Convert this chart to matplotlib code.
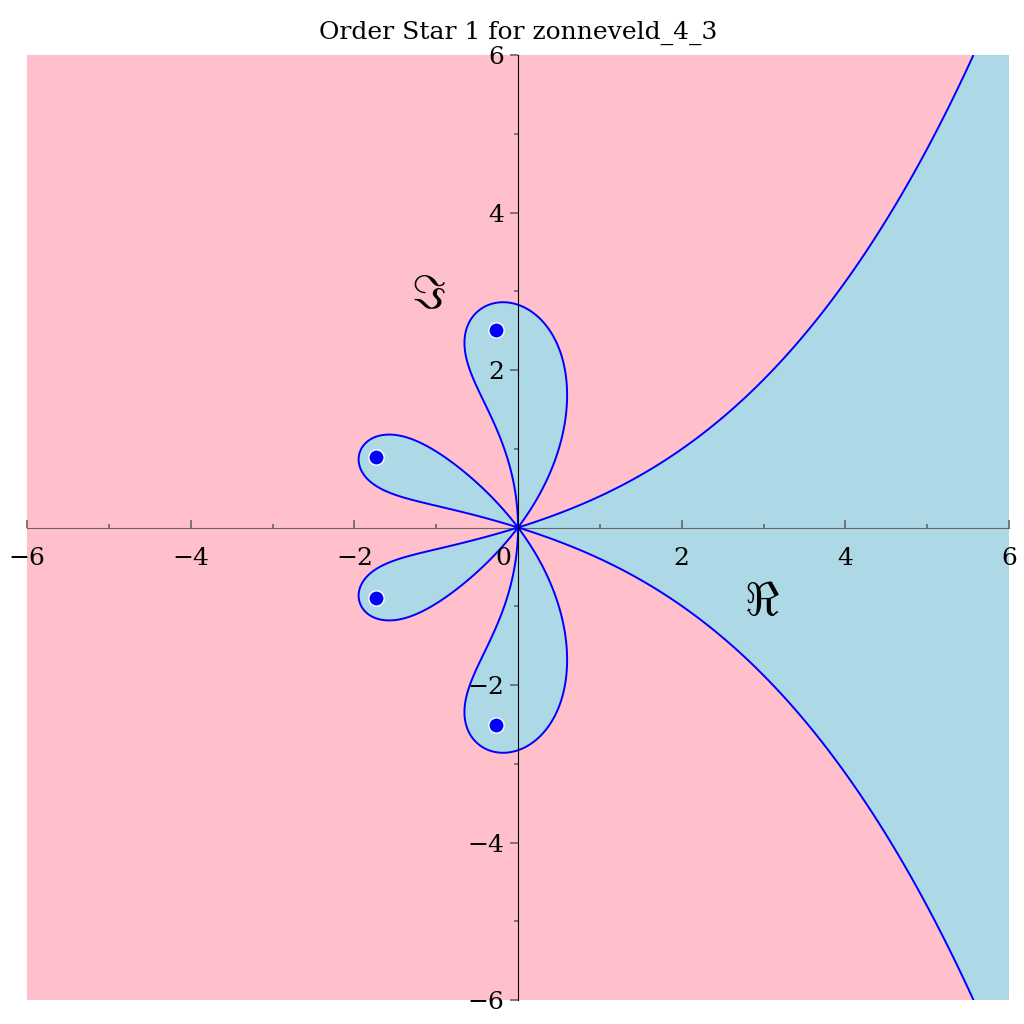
import numpy as np
import matplotlib.pyplot as plt

plt.rcParams['font.family'] = 'DejaVu Serif'
plt.rcParams['mathtext.fontset'] = 'dejavuserif'

# stability polynomial coefficients (increasing powers of z)
coeffs = [1.0, 1.0, 1.0 / 2, 1.0 / 6, 1.0 / 24]
# zeros of the stability polynomial
zeros_re = [-0.2706, -0.2706, -1.7294, -1.7294]
zeros_im = [2.5048, -2.5048, 0.8890, -0.8890]

title = "Order Star 1 for zonneveld_4_3"
ticks = [-6, -4, -2, 2, 4, 6]
xmin, xmax, ymin, ymax = -6, 6, -6, 6

# evaluate |R(z) / exp(z)| on a grid
x = np.linspace(xmin, xmax, 1200)
y = np.linspace(ymin, ymax, 1200)
X, Y = np.meshgrid(x, y)
Z = X + 1j * Y
R = np.polyval(coeffs[::-1], Z)
val = np.log(np.abs(R) + 1e-300) - X

fig = plt.figure(figsize=(10.24, 10.24), dpi=100)
ax = fig.add_axes([27 / 1024, 1 - 1000 / 1024, 982 / 1024, 945 / 1024])

ax.contourf(X, Y, val, levels=[-1e9, 0, 1e9], colors=['lightblue', 'pink'], zorder=0)
ax.contour(X, Y, val, levels=[0], colors='blue', linewidths=1.4, zorder=2)
ax.plot(zeros_re, zeros_im, 'o', color='blue', markeredgecolor='white',
        markeredgewidth=1.0, markersize=11, zorder=4)

ax.set_xlim(xmin, xmax)
ax.set_ylim(ymin, ymax)

ax.spines['left'].set_position(('data', 0))
ax.spines['bottom'].set_position(('data', 0))
ax.spines['right'].set_visible(False)
ax.spines['top'].set_visible(False)
ax.spines['bottom'].set_color('#666666')
ax.spines['bottom'].set_zorder(1)
ax.spines['left'].set_color('black')
ax.spines['left'].set_zorder(5)

ax.set_xticks(ticks)
ax.set_yticks(ticks)
ax.set_xticks(np.arange(-5, 6, 2), minor=True)
ax.set_yticks(np.arange(-5, 6, 2), minor=True)
ax.tick_params(axis='x', which='both', direction='in', color='#666666', labelsize=18, pad=14)
ax.tick_params(axis='y', which='both', direction='out', color='#666666', labelsize=18, pad=4)
ax.tick_params(which='major', length=6, width=1.2)
ax.tick_params(which='minor', length=3, width=1.2)

ax.annotate('0', xy=(0, 0), xytext=(-5, -14), textcoords='offset points',
            ha='right', va='top', fontsize=18, zorder=6)

ax.text(2.98, -0.95, r'$\Re$', fontsize=34, ha='center', va='center',
        math_fontfamily='cm', zorder=6)
ax.text(-1.1, 2.95, r'$\Im$', fontsize=34, ha='center', va='center',
        math_fontfamily='cm', zorder=6)

ax.set_title(title, fontsize=18, pad=12)

fig.savefig('out.png', dpi=100)
